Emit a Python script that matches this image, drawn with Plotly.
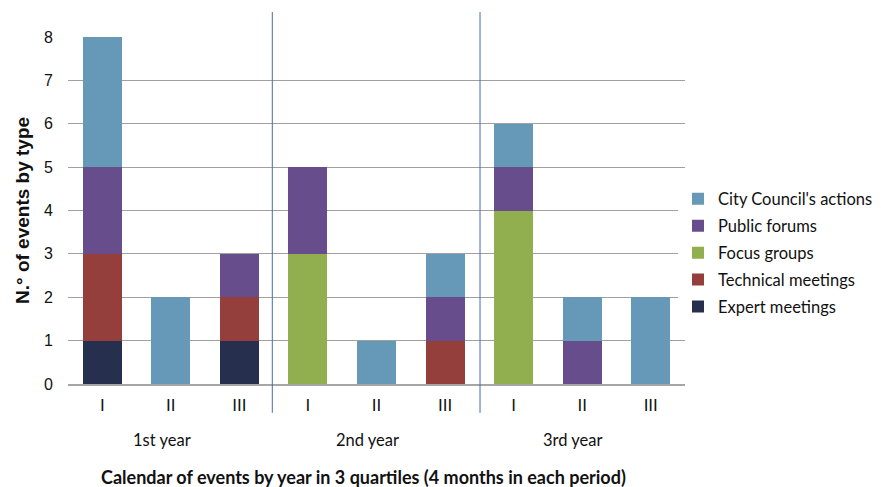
import plotly.graph_objects as go

quarters = ["I", "II", "III", "I", "II", "III", "I", "II", "III"]
years = ["1st year", "2nd year", "3rd year"]
series_names = ["Expert meetings", "Technical meetings", "Focus groups", "Public forums", "City Council's actions"]
expert = [1, 0, 1, 0, 0, 0, 0, 0, 0]
technical = [2, 0, 1, 0, 0, 1, 0, 0, 0]
focus = [0, 0, 0, 3, 0, 0, 4, 0, 0]
forums = [2, 0, 1, 2, 0, 1, 1, 1, 0]
council = [3, 2, 0, 0, 1, 1, 1, 1, 2]
colors = ["#262F4E", "#953F3D", "#92AF4F", "#684D8C", "#6699B8"]

xs = list(range(len(quarters)))
fig = go.Figure()
for i, (name, vals, col) in enumerate(zip(series_names, [expert, technical, focus, forums, council], colors)):
    fig.add_trace(go.Bar(x=xs, y=vals, name=name, marker=dict(color=col, line=dict(width=0)),
                         legendgroup=name, legendrank=len(series_names) - i))

calibri = "Lato, Open Sans, sans-serif"
arial = "Liberation Sans, Arial, sans-serif"

fig.update_layout(
    width=881, height=487,
    margin=dict(l=68, r=196, t=37, b=103, autoexpand=False),
    barmode="stack", bargap=0.43,
    plot_bgcolor="white", paper_bgcolor="white",
    showlegend=True,
    legend=dict(traceorder="grouped", tracegroupgap=2.5,
                x=(678 - 68) / 617, y=(384 - 253) / 347, xanchor="left", yanchor="middle",
                font=dict(family=calibri, size=16.5, color="#111"),
                itemwidth=30),
    xaxis=dict(range=[-0.5, 8.5], tickmode="array", tickvals=xs, ticktext=quarters,
               showgrid=False, zeroline=False, showline=True, linecolor="#A6A6A6", linewidth=1.5,
               tickfont=dict(family=arial, size=17, color="#111"), ticks="", ticklen=0,
               ticklabelstandoff=5),
    yaxis=dict(range=[0, 8], tickvals=list(range(9)), showgrid=True, gridcolor="#A0A0A0",
               gridwidth=1, zeroline=False, showline=False,
               tickfont=dict(family=arial, size=16, color="#111"), ticks="",
               ticklabelstandoff=14),
)

for xv in [2.48, 5.51]:
    fig.add_shape(type="line", xref="x", yref="paper", x0=xv, x1=xv, y0=-0.083, y1=1.072,
                  line=dict(color="#4A67B4", width=1))

for yr, xv in zip(years, [0.87, 3.87, 6.87]):
    fig.add_annotation(text=yr, x=xv, xref="x", y=-(440 - 384) / 347, yref="paper", showarrow=False,
                       yanchor="middle", font=dict(family=calibri, size=16.5, color="#111"))

fig.add_annotation(text="<b>Calendar of events by year in 3 quartiles (4 months in each period)</b>",
                   x=(363 - 68) / 617, xref="paper", y=-(477 - 384) / 347, yref="paper",
                   showarrow=False, yanchor="middle",
                   font=dict(family=calibri, size=18, color="#111"))

fig.add_annotation(text="<b>N.° of events by type</b>", x=-(68 - 22) / 617, xref="paper",
                   y=(384 - 211) / 347, yref="paper", textangle=-90, showarrow=False,
                   xanchor="center", yanchor="middle",
                   font=dict(family=arial, size=19, color="#111"))

fig.write_html("out.html")
